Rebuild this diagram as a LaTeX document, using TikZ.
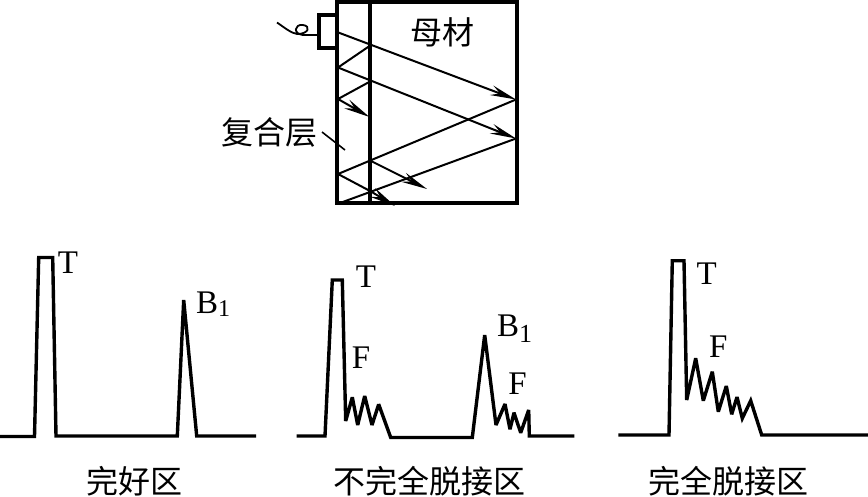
\documentclass[tikz,border=0pt]{standalone}
\usepackage{fontspec}
\setmainfont{Liberation Serif}
\newfontfamily\cjkfont{Noto Sans CJK SC}
\usetikzlibrary{arrows.meta}
\tikzset{
  wave/.style={line width=3.4pt,line join=miter,miter limit=3},
  frame/.style={line width=3.4pt},
  ray/.style={line width=2pt},
  rayarrow/.style={ray,-{Stealth[length=26pt,width=10pt,inset=9pt]}},
  lat/.style={inner sep=0pt,font=\fontsize{33}{33}\selectfont},
  cjk/.style={inner sep=0pt,font=\cjkfont\fontsize{32}{32}\selectfont},
}
\begin{document}
\begin{tikzpicture}[x=1pt,y=-1pt]
\useasboundingbox (0,0) rectangle (868,496);
% specimen
\draw[frame] (337,2) rectangle (517,203);
\draw[frame] (370,2) -- (370,203);
\draw[frame] (337,15) -- (319,15) -- (319,48) -- (337,48);
\draw[line width=1.8pt] (277,22.5) .. controls (285,28) and (291,33) .. (297,34) .. controls (309,34) and (311,26) .. (303,25) .. controls (294,24) and (293,34) .. (303,35) -- (319,35);
% rays
\draw[rayarrow] (337,32) -- (516,99.5);
\draw[ray] (371,45) -- (338,67.5);
\draw[rayarrow] (338,67.5) -- (516,138.5);
\draw[ray] (371,81) -- (338,99);
\draw[rayarrow] (338,99) -- (369.5,117);
\draw[ray] (516,99.5) -- (338,174);
\draw[ray] (338,174) -- (371,191.5);
\draw[rayarrow] (371,161) -- (427,189);
\draw[ray] (516,138.5) -- (340,203);
\draw[rayarrow] (371,191.5) -- (395,206);
\node[cjk] (base) at (442,32) {母材};
\node[cjk] (layer) at (269,132) {复合层};
\coordinate (la) at (322,132);
\coordinate (lb) at (345,150);
\draw[line width=1.6pt] (la) -- (lb);
% waveform 1
\draw[wave] (0,436.5) -- (34.5,436.5) -- (38.7,257.5) -- (52.7,257.5) -- (56,436) -- (177.3,436) -- (183.7,300) -- (196.7,436) -- (256,436);
\node[lat] (t1) at (68,263) {T};
\node[lat,anchor=base west] (b1) at (196,313) {B\raisebox{-3pt}{\fontsize{24}{24}\selectfont 1}};
\node[cjk] (c1) at (134,481) {完好区};
% waveform 2
\draw[wave] (296.7,436) -- (325,436) -- (332.3,280) -- (342.3,280) -- (345.7,421) -- (352.3,397.3) -- (357.7,425) -- (364.7,396) -- (372,425) -- (378.7,404.3) -- (390.7,437.5) -- (472.3,437.5) -- (484.7,335) -- (496,425) -- (505,404) -- (510,429.3) -- (514,412.7) -- (520.7,432.7) -- (528.7,410) -- (529.3,436) -- (574.3,436);
\node[lat] (t2) at (366,277) {T};
\node[lat] (f2) at (361,358) {F};
\node[lat,anchor=base west] (b2) at (497,336) {B\raisebox{-6pt}{\fontsize{26}{26}\selectfont 1}};
\node[lat] (f3) at (517.5,384) {F};
\node[cjk] (c2) at (429.5,481) {不完全脱接区};
% waveform 3
\draw[wave] (618.3,435) -- (669,435) -- (672.3,260.7) -- (684,260.7) -- (686.7,400) -- (695.7,358.3) -- (703.3,400.7) -- (712.3,371.7) -- (718.3,411.7) -- (726.3,386) -- (731.7,414.3) -- (737,397) -- (742.3,418.3) -- (750.7,400.7) -- (761.7,435) -- (868,435);
\node[lat] (t3) at (706.7,273.5) {T};
\node[lat] (f4) at (718.3,347) {F};
\node[cjk] (c3) at (728.5,481) {完全脱接区};
\end{tikzpicture}
\end{document}
